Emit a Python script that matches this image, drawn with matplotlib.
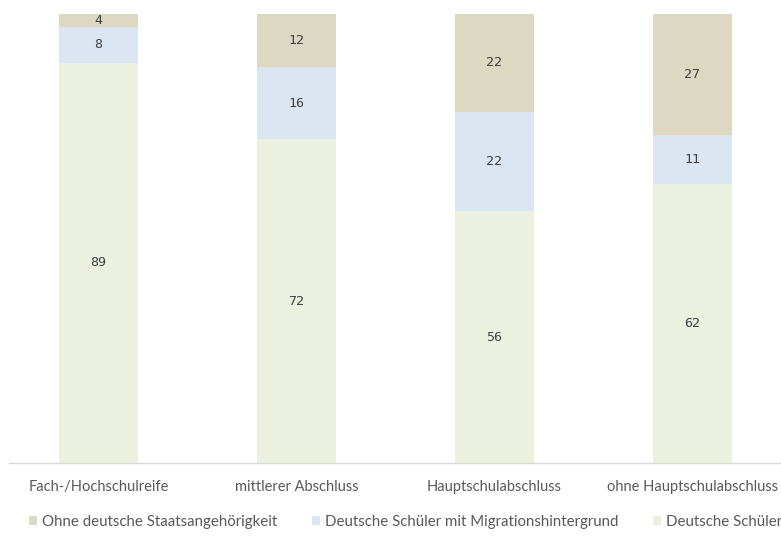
import matplotlib
matplotlib.use("Agg")
import matplotlib.pyplot as plt
import numpy as np

categories = ["Fach-/Hochschulreife", "mittlerer Abschluss", "Hauptschulabschluss", "ohne Hauptschulabschluss"]
series_names = ["Ohne deutsche Staatsangehörigkeit",
                "Deutsche Schüler mit Migrationshintergrund",
                "Deutsche Schüler"]
deutsche = [89, 72, 56, 62]
migration = [8, 16, 22, 11]
ohne_dt = [4, 12, 22, 27]

colors = {"ohne": "#DDD8C1", "mig": "#DCE6F2", "dt": "#EBF1DE"}

W, H = 781, 537
fig = plt.figure(figsize=(W / 100, H / 100), dpi=100)

x = np.arange(len(categories))
xmin, xmax = -0.452, 3.6
px_per_unit = 198
ax_left = 9 / W
ax_w = (xmax - xmin) * px_per_unit / W
ax_bottom = (H - 463) / H
ax_top = (H - 13.5) / H
ax = fig.add_axes([ax_left, ax_bottom, ax_w, ax_top - ax_bottom])
ax.set_xlim(xmin, xmax)
ax.set_ylim(0, 100)

width = 0.4
b1 = ax.bar(x, deutsche, width, color=colors["dt"], label=series_names[2])
bottom2 = np.array(deutsche)
b2 = ax.bar(x, migration, width, bottom=bottom2, color=colors["mig"], label=series_names[1])
bottom3 = bottom2 + np.array(migration)
b3 = ax.bar(x, ohne_dt, width, bottom=bottom3, color=colors["ohne"], label=series_names[0])

for vals, bots in [(deutsche, np.zeros(4)), (migration, bottom2), (ohne_dt, bottom3)]:
    for xi, v, b in zip(x, vals, bots):
        top = min(b + v, 100)
        ax.text(xi, (b + top) / 2, str(v), ha="center", va="center",
                fontfamily="DejaVu Sans Mono", fontsize=9.5, color="#404040")

for s in ["top", "left", "right"]:
    ax.spines[s].set_visible(False)
ax.spines["bottom"].set_color("#D9D9D9")
ax.spines["bottom"].set_linewidth(1)
ax.set_yticks([])
ax.set_xticks(x)
ax.set_xticklabels(categories, fontsize=10.5, color="#595959", family=["Lato", "DejaVu Sans"])
ax.tick_params(axis="x", length=0, pad=12)

handles = [b3, b2, b1]
leg = fig.legend(handles, series_names, loc="center left",
                 bbox_to_anchor=(29 / W, (H - 522) / H), ncol=3, frameon=False,
                 prop={"family": ["Lato", "DejaVu Sans"], "size": 10.8},
                 handlelength=0.55, handleheight=0.55, handletextpad=0.33,
                 columnspacing=2.3, borderpad=0, borderaxespad=0)
for t in leg.get_texts():
    t.set_color("#595959")

fig.savefig("out.png", dpi=100)
